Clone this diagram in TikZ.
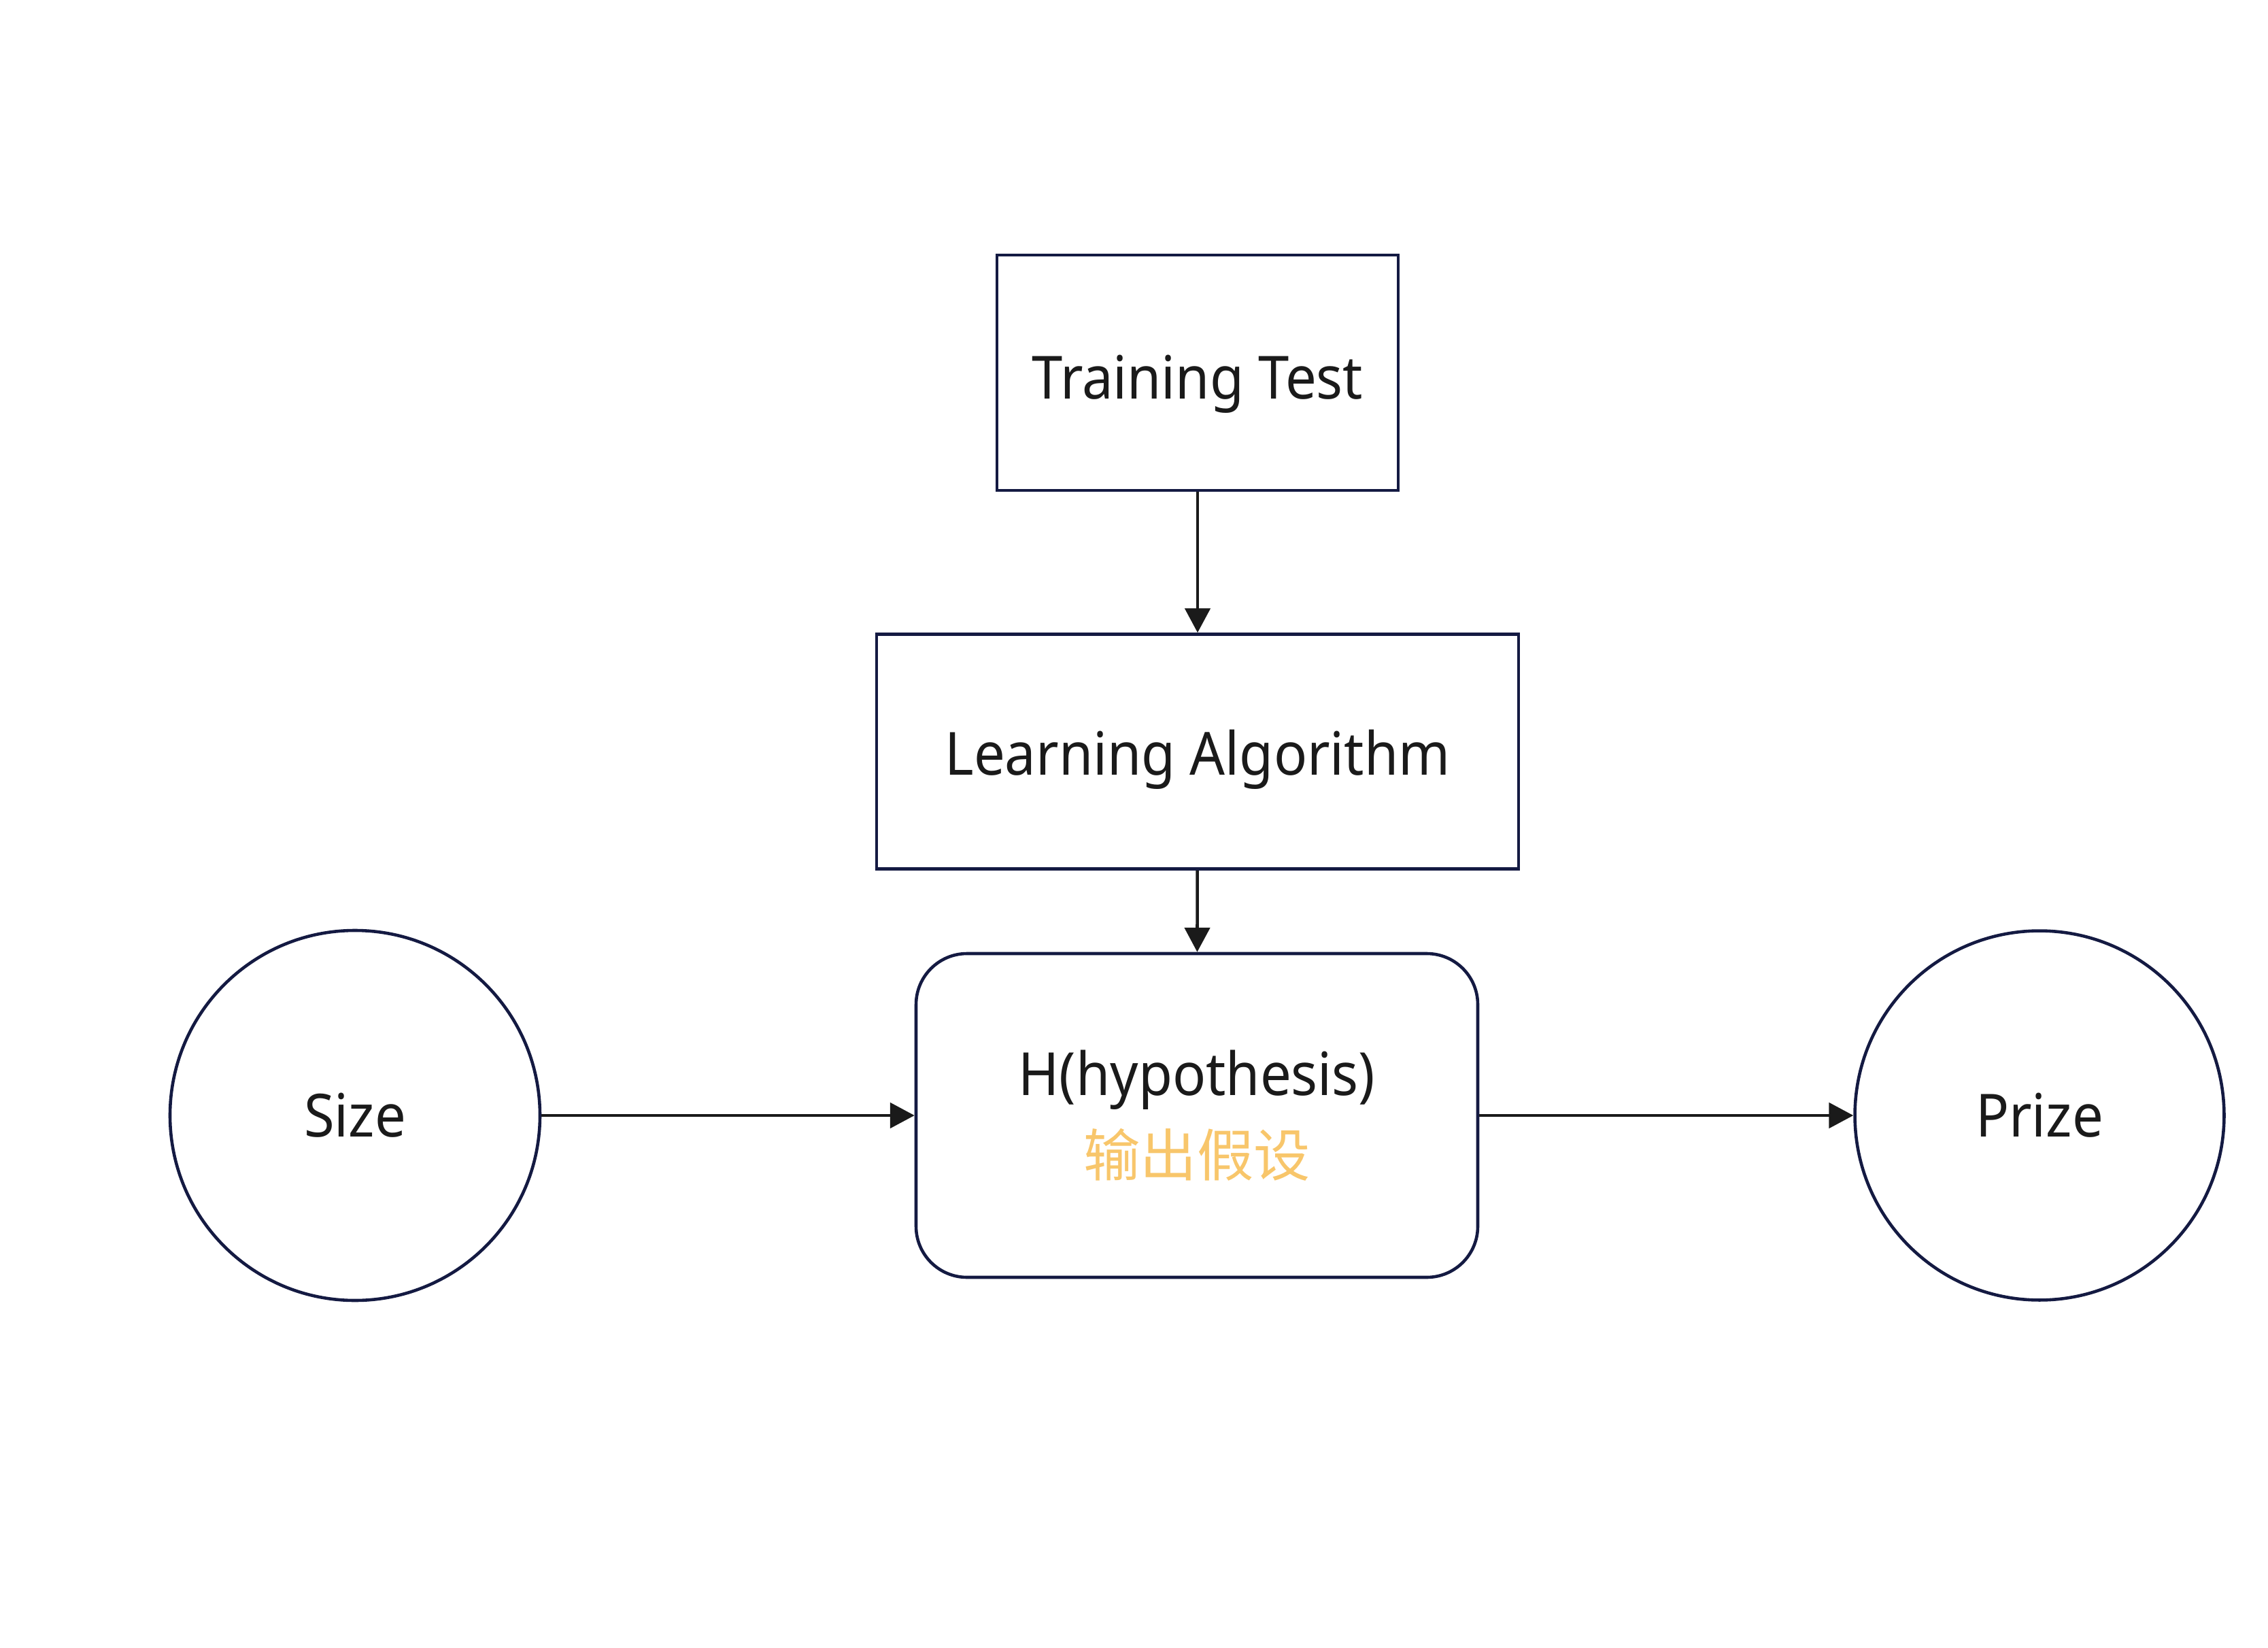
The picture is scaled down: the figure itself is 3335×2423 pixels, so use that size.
\documentclass[tikz,border=0pt]{standalone}
\usepackage{fontspec}
\setmainfont[FakeStretch=0.93]{Noto Sans}
\newfontfamily\cjk{Noto Sans CJK SC}
\usetikzlibrary{arrows.meta}
\definecolor{edgeblue}{HTML}{141A42}
\definecolor{inkgray}{HTML}{1A1A1A}
\definecolor{hintorange}{HTML}{F8C66B}
\tikzset{
  base/.style={draw=edgeblue, line width=1.1pt, fill=white, text=inkgray, font=\fontsize{21}{26}\selectfont, inner sep=0pt},
  oneline/.style={text height=15.1pt, text depth=0pt},
  rectbox/.style={base, oneline, rectangle},
  roundbox/.style={base, rectangle, rounded corners=18pt},
  circlebox/.style={base, oneline, circle},
  link/.style={draw=inkgray, line width=1.1pt, -{Triangle[length=8.6pt,width=8.9pt]}}
}
\begin{document}
\begin{tikzpicture}[x=0.24pt, y=-0.24pt]
\useasboundingbox (0,0) rectangle (3335,2423);
\node[rectbox, text height=18.5pt, minimum width=141.6pt, minimum height=83.04pt] (train) at (1761,548) {Training Test};
\node[rectbox, text height=16.5pt, minimum width=226.56pt, minimum height=82.8pt] (algo) at (1761,1105) {Learning Algorithm};
\node[roundbox, minimum width=198.24pt, minimum height=114.24pt, align=center] (hyp) at (1760,1640)
  {H(hypothesis)\\[2.5pt]{\cjk\fontsize{20}{24}\selectfont\color{hintorange}输出假设}};
\node[circlebox, minimum size=130.56pt] (size) at (522,1640) {Size};
\node[circlebox, minimum size=130.3pt] (prize) at (2999,1640) {Prize};
\draw[link] (train) -- (algo);
\draw[link] (algo) -- (hyp);
\draw[link] (size) -- (hyp);
\draw[link] (hyp) -- (prize);
\end{tikzpicture}
\end{document}
